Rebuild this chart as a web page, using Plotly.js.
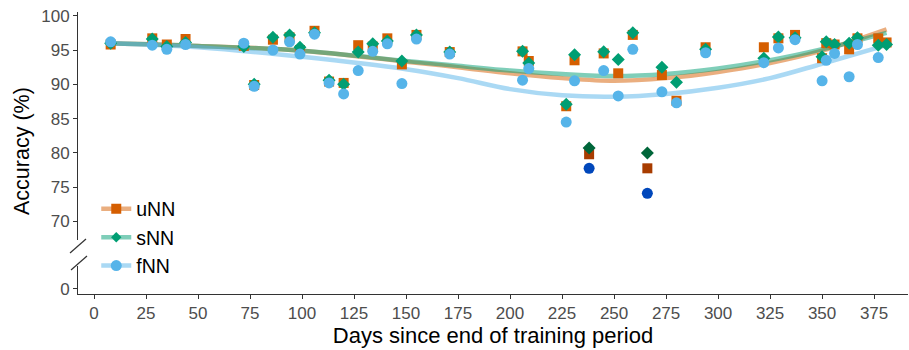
<!DOCTYPE html>
<html>
<head>
<meta charset="utf-8">
<script src="https://cdn.plot.ly/plotly-3.0.1.min.js"></script>
<style>body{margin:0;background:#fff}#chart{width:909px;height:350px}</style>
</head>
<body>
<div id="chart"></div>
<script>
// ---- data ----
const days = [8, 28, 35, 44, 72, 77, 86, 94, 99, 106, 113, 120, 127, 134, 141, 148, 155, 171, 206, 209, 227, 231, 245, 252, 259, 273, 280, 294, 322, 329, 337, 350, 352, 356, 363, 367, 377, 381];
const uNN = [95.8, 96.7, 95.8, 96.6, 95.6, 89.9, 96.5, 96.85, 95.0, 97.8, 90.4, 90.2, 95.7, 95.5, 96.7, 92.9, 97.2, 94.7, 94.8, 93.4, 86.8, 93.5, 94.5, 91.6, 97.2, 91.35, 87.6, 95.4, 95.4, 96.7, 97.2, 93.8, 96.0, 95.8, 95.1, 96.7, 96.7, 96.1];
const sNN = [96.0, 96.6, 95.5, 96.1, 95.5, 90.0, 96.85, 97.2, 95.4, 97.5, 90.6, 90.0, 94.7, 95.9, 96.3, 93.4, 97.2, 94.7, 94.8, 93.1, 87.1, 94.3, 94.75, 93.6, 97.5, 92.5, 90.3, 95.1, 93.8, 96.9, 96.8, 94.0, 96.2, 95.8, 96.0, 96.8, 95.7, 95.8];
const fNN = [96.2, 95.7, 95.1, 95.8, 96.0, 89.7, 95.0, 96.2, 94.4, 97.3, 90.2, 88.6, 92.0, 94.8, 95.9, 90.1, 96.6, 94.4, 90.6, 92.3, 84.5, 90.5, 92.0, 88.3, 95.1, 88.9, 87.3, 94.6, 93.15, 95.3, 96.5, 90.5, 93.5, 94.5, 91.1, 95.8, 93.9, null];

// outlier days (drawn darker)
const outlierDays = [238, 266];
const uNNout = [79.8, 77.75];
const sNNout = [80.7, 80.0];
const fNNout = [77.75, 74.1];

// smoothed trend curves
const trendDays = [8, 50, 100, 150, 175, 200, 225, 250, 275, 300, 325, 350, 381];
const uNNtrend = [96.0, 95.6, 94.9, 93.3, 92.5, 91.6, 90.9, 90.5, 90.9, 91.8, 93.1, 94.9, 98.0];
const sNNtrend = [96.0, 95.6, 94.9, 93.4, 92.7, 92.0, 91.5, 91.2, 91.5, 92.3, 93.5, 95.1, 97.5];
const fNNtrend = [96.0, 95.4, 94.0, 92.2, 90.9, 89.3, 88.4, 88.2, 88.6, 89.5, 90.9, 93.0, 95.7];

const xTicks = [0, 25, 50, 75, 100, 125, 150, 175, 200, 225, 250, 275, 300, 325, 350, 375];
const yTicksUpper = [70, 75, 80, 85, 90, 95, 100];
const yTicksLower = [0];
const seriesNames = ['uNN', 'sNN', 'fNN'];

// ---- styles ----
const cols = {uNN: '#D55E00', sNN: '#009E73', fNN: '#56B4E9'};
const lineCols = {uNN: 'rgba(213,94,0,0.5)', sNN: 'rgba(0,158,115,0.5)', fNN: 'rgba(86,180,233,0.5)'};
const dark = {uNN: '#A83C00', sNN: '#00663A', fNN: '#0047BB'};
const syms = {uNN: 'square', sNN: 'diamond', fNN: 'circle'};
const sizes = {uNN: 10, sNN: 10, fNN: 11};
const legSizes = {uNN: 10, sNN: 8, fNN: 11};
const vals = {uNN, sNN, fNN};
const outs = {uNN: uNNout, sNN: sNNout, fNN: fNNout};
const trends = {uNN: uNNtrend, sNN: sNNtrend, fNN: fNNtrend};

const traces = [];
// legend-only entries (no data) on the lower axis, so that axis exists
seriesNames.forEach(k => {
  traces.push({x: [null], y: [null], yaxis: 'y', type: 'scatter', mode: 'lines+markers', name: k,
    line: {color: lineCols[k], width: 4.5},
    marker: {symbol: syms[k], color: cols[k], size: legSizes[k]}, showlegend: true});
});
// trend lines
seriesNames.forEach(k => {
  traces.push({x: trendDays, y: trends[k], yaxis: 'y2', type: 'scatter', mode: 'lines',
    line: {color: lineCols[k], width: 4.5, shape: 'spline', smoothing: 1.0},
    showlegend: false, hoverinfo: 'skip'});
});
// points
seriesNames.forEach(k => {
  traces.push({x: days, y: vals[k], yaxis: 'y2', type: 'scatter', mode: 'markers',
    marker: {symbol: syms[k], color: cols[k], size: sizes[k]}, showlegend: false, name: k});
});
seriesNames.forEach(k => {
  traces.push({x: outlierDays, y: outs[k], yaxis: 'y2', type: 'scatter', mode: 'markers',
    marker: {symbol: syms[k], color: dark[k], size: sizes[k]}, showlegend: false, name: k});
});

const axisCommon = {showline: true, linecolor: '#333333', linewidth: 1, ticks: 'outside', ticklen: 4,
  tickcolor: '#333333', showgrid: false, zeroline: false, automargin: false,
  tickfont: {family: 'Liberation Sans, Arial, sans-serif', size: 17, color: '#4D4D4D'}};

const W = 830, H = 282; // plot area pixels
const layout = {
  width: 909, height: 350,
  margin: {l: 78, r: 1, t: 12, b: 56},
  paper_bgcolor: '#fff', plot_bgcolor: '#fff',
  font: {family: 'Liberation Sans, Arial, sans-serif', color: '#000'},
  showlegend: true,
  legend: {x: 0.022, y: 0.37, xanchor: 'left', yanchor: 'top', bgcolor: 'rgba(0,0,0,0)',
    font: {size: 19.5, color: '#000'}, tracegroupgap: 0, itemwidth: 30},
  xaxis: Object.assign({}, axisCommon, {range: [-7.7, 391.3], tickvals: xTicks, anchor: 'y',
    title: {text: 'Days since end of training period', font: {size: 22, color: '#000'}, standoff: 4}}),
  yaxis: Object.assign({}, axisCommon, {domain: [0, 0.0993], range: [-0.77, 3.31], tickvals: yTicksLower, anchor: 'x'}),
  yaxis2: Object.assign({}, axisCommon, {domain: [0.1915, 1], range: [67.3, 100.54], tickvals: yTicksUpper, anchor: 'x'}),
  annotations: [{text: 'Accuracy (%)', textangle: -90, xref: 'paper', yref: 'paper',
    x: (22 - 78) / W, y: (294 - 151) / H, xanchor: 'center', yanchor: 'middle', showarrow: false,
    font: {size: 21.5, color: '#000'}}],
  shapes: [
    {type: 'line', xref: 'paper', yref: 'paper', x0: -8 / W, y0: (294 - 253) / H, x1: 8 / W, y1: (294 - 239) / H, line: {color: '#333', width: 1.2}},
    {type: 'line', xref: 'paper', yref: 'paper', x0: -7 / W, y0: (294 - 270) / H, x1: 9 / W, y1: (294 - 256) / H, line: {color: '#333', width: 1.2}}
  ]
};

Plotly.newPlot('chart', traces, layout, {displayModeBar: false, staticPlot: true});
</script>
</body>
</html>
